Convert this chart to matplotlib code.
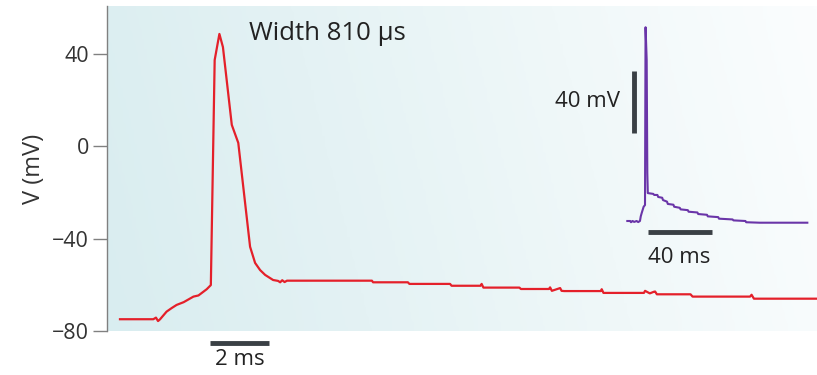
import numpy as np
import matplotlib
matplotlib.use('Agg')
import matplotlib.pyplot as plt
from matplotlib.colors import LinearSegmentedColormap

plt.rcParams['font.family'] = ['Open Sans', 'DejaVu Sans']

# main action potential trace (time in ms, voltage in mV)
ap_time = [0.44, 1.57, 1.66, 1.73, 1.80, 2.02, 2.20, 2.36, 2.60, 2.93, 3.10, 3.38, 3.52,
           3.65, 3.81, 3.93, 4.23, 4.45, 4.85, 5.02, 5.19, 5.36, 5.63, 5.80, 5.87,
           5.94, 6.02, 6.10, 8.98, 9.02, 10.20, 10.25, 11.63, 11.68, 12.66, 12.70,
           12.76, 13.98, 14.03, 14.98, 15.02, 15.08, 15.36, 15.41, 15.50, 16.74,
           16.77, 16.83, 18.20, 18.24, 18.40, 18.54, 18.58, 18.64, 19.78, 19.85,
           21.80, 21.85, 21.93, 24.07]
ap_volt = [-74.9, -74.9, -74.2, -75.7, -74.9, -71.6, -70.0, -68.7, -67.5, -65.1, -64.6, -61.9, -60.1,
           37.4, 48.7, 43.0, 9.3, 1.5, -43.5, -50.5, -53.6, -55.7, -57.9, -58.3, -58.9,
           -58.0, -58.8, -58.2, -58.2, -58.9, -58.9, -59.6, -59.6, -60.4, -60.4, -59.6,
           -61.2, -61.2, -61.8, -61.8, -61.1, -62.6, -61.4, -62.6, -62.7, -62.7,
           -61.9, -63.5, -63.5, -62.6, -63.7, -63.0, -62.9, -64.1, -64.1, -65.1,
           -65.1, -64.3, -66.0, -66.0]

# inset trace (time in ms, voltage in mV)
inset_time = [0.2, 2.0, 2.5, 3.5, 4.5, 6.0, 7.0, 8.1, 8.6, 9.2, 10.4, 11.25, 11.6, 12.3,
              12.7, 13.0, 16.4, 17.0, 19.0, 19.5, 22.0, 22.5, 25.0, 25.5, 29.0, 29.5,
              33.0, 33.5, 38.0, 38.5, 44.0, 44.5, 50.0, 50.5, 57.0, 57.5, 66.0, 66.5,
              74.0, 74.5, 83.0, 112.7]
inset_volt = [-65.0, -65.0, -65.8, -65.0, -65.6, -65.0, -65.7, -65.0, -62.0, -59.8, -55.8,
              -54.7, 60.0, 38.9, -34.0, -47.0, -47.5, -48.2, -48.2, -49.5, -50.0, -51.5,
              -52.5, -54.0, -54.5, -55.8, -56.5, -57.5, -58.0, -59.0, -59.5, -60.5, -61.0,
              -62.0, -62.5, -63.5, -64.0, -64.6, -65.0, -65.8, -66.1, -66.1]

yticks = [-80, -40, 0, 40]
ytick_labels = ['\u221280', '\u221240', '0', '40']

W, H = 817, 375
fig = plt.figure(figsize=(W / 100, H / 100), dpi=100)
ax = fig.add_axes([107 / W, (H - 331) / H, 1 - 107 / W, 325 / H])

xmax = 710 / 29.5
ax.set_xlim(0, xmax)
ax.set_ylim(-80, 60.8)

# background gradient
grad_cmap = LinearSegmentedColormap.from_list('bg', ['#d9edf0', '#e4f2f4', '#f0f8f9', '#fbfdfe'])
gx = np.linspace(0, 1, 256)
gy = np.linspace(0, 1, 64)
gxx, gyy = np.meshgrid(gx, gy)
grad = gxx * 0.9 + gyy * 0.1
ax.imshow(grad, extent=[0, xmax, -80, 60.8], aspect='auto', cmap=grad_cmap,
          origin='lower', zorder=0)

ax.plot(ap_time, ap_volt, color='#e4202a', lw=1.6, zorder=3)

for s in ['top', 'right', 'bottom']:
    ax.spines[s].set_visible(False)
ax.spines['left'].set_color('#808080')
ax.spines['left'].set_linewidth(1.0)
ax.set_xticks([])
ax.set_yticks(yticks)
ax.set_yticklabels(ytick_labels)
ax.tick_params(axis='y', length=10, width=1.0, color='#808080', labelsize=15.5,
               labelcolor='#333333', pad=3)
ax.set_ylabel('V (mV)', fontsize=17, color='#333333', labelpad=4)

ax.text((249 - 107) / 29.5, 40 + (54 - 33) / 2.3075, 'Width 810 \u00b5s',
        fontsize=18.5, color='#222222', va='center', ha='left')

# 2 ms scale bar below axes
ax.plot([(210 - 107) / 29.5, (269 - 107) / 29.5], [-85, -85], color='#3a4045', lw=3.5,
        clip_on=False, solid_capstyle='butt')
ax.text((240 - 107) / 29.5, -92.5, '2 ms', fontsize=16, color='#222222',
        ha='center', va='center', clip_on=False)

# inset
ix0, ix1, iy0, iy1 = 540, 817, 10, 280
axi = fig.add_axes([ix0 / W, (H - iy1) / H, (ix1 - ix0) / W, (iy1 - iy0) / H])
axi.set_xlim((ix0 - 627) / 1.6, (ix1 - 627) / 1.6)
axi.set_ylim((221 - iy1) / 1.55 - 65, (221 - iy0) / 1.55 - 65)
axi.axis('off')
axi.patch.set_alpha(0)
axi.plot(inset_time, inset_volt, color='#6a35a8', lw=1.5)
axi.plot([4.4, 4.4], [-8.2, 31.8], color='#3a4045', lw=3.5, solid_capstyle='butt')
axi.text(-4.5, 11.8, '40 mV', fontsize=16, color='#222222', ha='right', va='center')
axi.plot([12.9, 52.9], [-71.9, -71.9], color='#3a4045', lw=3.5, solid_capstyle='butt')
axi.text(32.9, -88.5, '40 ms', fontsize=16, color='#222222', ha='center', va='center')

fig.savefig('out.png', dpi=100)
